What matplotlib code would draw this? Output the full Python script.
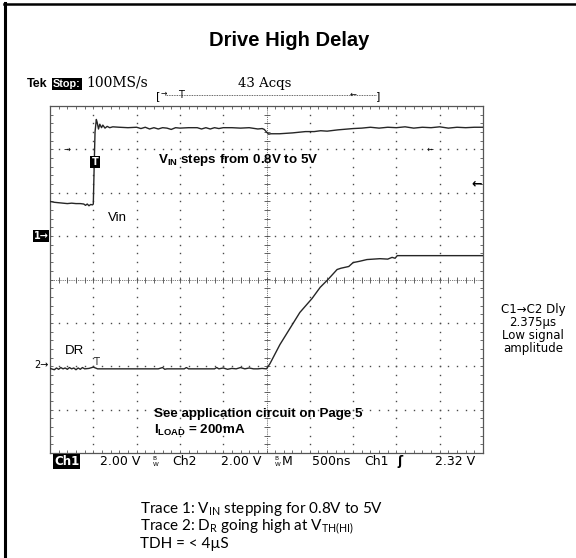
import matplotlib.pyplot as plt
import numpy as np
from matplotlib import font_manager
from matplotlib.lines import Line2D
from matplotlib.ticker import MultipleLocator

W, H = 576, 558

# ----------------------------------------------------------
# Scope traces, in graticule divisions (x 0..10, y -4..4)
# ----------------------------------------------------------

vin_t = [0.00, 0.10, 0.20, 0.30, 0.40, 0.50, 0.60, 0.70, 0.78, 0.82,
         0.86, 0.90, 0.94, 0.98, 1.00, 1.02, 1.04, 1.07, 1.09, 1.12,
         1.15, 1.19, 1.22, 1.27, 1.32, 1.38, 1.45, 1.60, 1.80, 2.00,
         2.10, 2.20, 2.30, 2.40, 2.50, 2.60, 2.70, 2.80, 2.90, 3.00,
         3.20, 3.40, 3.50, 3.60, 3.70, 3.80, 3.90, 4.00, 4.20, 4.40,
         4.60, 4.80, 4.90, 4.95, 5.00, 5.05, 5.10, 5.30, 5.60, 5.90,
         6.10, 6.25, 6.40, 6.65, 7.00, 7.20, 7.40, 7.60, 7.80, 8.00,
         8.20, 8.40, 8.60, 8.80, 9.00, 9.20, 9.40, 9.60, 9.80, 10.00]
vin_v = [1.80, 1.78, 1.77, 1.76, 1.75, 1.76, 1.75, 1.75, 1.74, 1.71,
         1.74, 1.70, 1.73, 1.72, 1.74, 2.60, 3.40, 3.69, 3.62, 3.47,
         3.58, 3.50, 3.56, 3.49, 3.53, 3.50, 3.52, 3.51, 3.50, 3.51,
         3.48, 3.51, 3.47, 3.50, 3.47, 3.50, 3.49, 3.46, 3.50, 3.49,
         3.50, 3.50, 3.47, 3.50, 3.47, 3.50, 3.48, 3.50, 3.50, 3.49,
         3.50, 3.47, 3.48, 3.46, 3.40, 3.35, 3.36, 3.36, 3.38, 3.41,
         3.41, 3.43, 3.42, 3.45, 3.48, 3.49, 3.51, 3.49, 3.51, 3.50,
         3.52, 3.49, 3.51, 3.50, 3.52, 3.49, 3.51, 3.50, 3.51, 3.51]

dr_t = [0.00, 0.10, 0.15, 0.20, 0.25, 0.30, 0.35, 0.40, 0.45, 0.50,
        0.55, 0.60, 0.65, 0.70, 0.75, 0.80, 0.90, 1.00, 1.10, 1.50,
        2.00, 2.50, 2.60, 2.65, 2.70, 3.10, 3.15, 3.20, 3.30, 3.80,
        3.85, 3.90, 4.00, 4.10, 4.20, 4.30, 4.40, 4.50, 4.60, 4.70,
        4.80, 4.90, 5.00, 5.08, 5.31, 5.77, 6.05, 6.24, 6.42, 6.63,
        6.72, 6.81, 6.90, 7.00, 7.15, 7.32, 7.62, 7.80, 7.90, 7.97,
        8.02, 8.50, 9.00, 9.50, 10.00]
dr_v = [-2.05, -2.08, -2.04, -2.07, -2.03, -2.06, -2.04, -2.07, -2.03, -2.06,
        -2.04, -2.08, -2.04, -2.07, -2.03, -2.06, -2.05, -2.02, -2.06, -2.06,
        -2.06, -2.06, -2.03, -2.07, -2.06, -2.06, -2.03, -2.06, -2.06, -2.06,
        -2.03, -2.06, -2.04, -2.07, -2.05, -2.06, -2.03, -2.06, -2.04, -2.06,
        -2.06, -2.05, -2.06, -1.94, -1.50, -0.76, -0.44, -0.18, 0.00, 0.23,
        0.26, 0.28, 0.30, 0.39, 0.42, 0.46, 0.48, 0.47, 0.51, 0.49,
        0.55, 0.55, 0.55, 0.55, 0.55]

title = "Drive High Delay"
header_rate = "100MS/s"
header_acqs = "43 Acqs"
status_items = [("2.00 V", 100), ("Ch2", 172), ("2.00 V", 221),
                ("M", 282), ("500ns", 312), ("Ch1", 364), ("2.32 V", 435)]
side_note = "C1\u2192C2 Dly\n2.375\u00b5s\nLow signal\namplitude"
caption = [r"Trace 1: V$_{\mathregular{IN}}$ stepping for 0.8V to 5V",
           r"Trace 2: D$_{\mathregular{R}}$ going high at V$_{\mathregular{TH(HI)}}$",
           "TDH = < 4\u00b5S"]

names = {f.name for f in font_manager.fontManager.ttflist}
narrow = "Liberation Sans Narrow" if "Liberation Sans Narrow" in names else "Liberation Sans"
nsize = 11.5 if narrow == "Liberation Sans Narrow" else 9.6

TRACE = "#262626"
GRID = "#4a4a4a"


def put(fig, x, y, s, **kw):
    # place text by pixel position of the reference image
    return fig.text(x / W, 1 - y / H, s, **kw)


fig = plt.figure(figsize=(W / 100, H / 100), dpi=100)

ax = fig.add_axes([50 / W, 1 - 453 / H, 433 / W, 347 / H])
ax.set_xlim(0, 10)
ax.set_ylim(-4, 4)

for s in ax.spines.values():
    s.set_color("#555555")
    s.set_linewidth(0.9)

ax.xaxis.set_major_locator(MultipleLocator(1))
ax.yaxis.set_major_locator(MultipleLocator(1))
ax.xaxis.set_minor_locator(MultipleLocator(0.2))
ax.yaxis.set_minor_locator(MultipleLocator(0.2))
ax.tick_params(which="both", direction="in", top=True, right=True,
               labelbottom=False, labelleft=False, length=2.5,
               width=0.6, color="#555555")

# ----------------------------------------------------------
# Graticule
# ----------------------------------------------------------

fine = np.arange(-4, 4.001, 0.2)
fine_x = np.arange(0, 10.001, 0.2)

for gx in range(1, 10):
    if gx == 5:
        continue
    ax.plot([gx] * len(fine), fine, ls="none", marker="s", ms=1.0,
            mew=0, color=GRID)

for gy in range(-3, 4):
    if gy == 0:
        continue
    ax.plot(fine_x, [gy] * len(fine_x), ls="none", marker="s", ms=1.0,
            mew=0, color=GRID)

ax.axvline(5, ls=(0, (1, 1.2)), lw=0.6, color=GRID)
ax.axhline(0, ls=(0, (1, 1.2)), lw=0.6, color=GRID)
ax.plot([5] * len(fine), fine, ls="none", marker="_", ms=4, mew=0.6,
        color=GRID)
ax.plot(fine_x, [0] * len(fine_x), ls="none", marker="|", ms=4, mew=0.6,
        color=GRID)

# ----------------------------------------------------------
# Traces
# ----------------------------------------------------------

ax.plot(vin_t, vin_v, color=TRACE, lw=1.0, zorder=5)
ax.plot(dr_t, dr_v, color=TRACE, lw=1.0, zorder=5)

# ----------------------------------------------------------
# Frame
# ----------------------------------------------------------

fig.add_artist(Line2D([5 / W, 5 / W], [0, 1 - 3 / H],
                      transform=fig.transFigure, color="black", lw=2.2))
fig.add_artist(Line2D([4 / W, 1], [1 - 4 / H, 1 - 4 / H],
                      transform=fig.transFigure, color="black", lw=1.8))

# ----------------------------------------------------------
# Text
# ----------------------------------------------------------

put(fig, 289, 46, title, ha="center", va="baseline", fontsize=14.5,
    fontweight="bold", family="Liberation Sans")

put(fig, 27, 87, "Tek", ha="left", va="baseline", fontsize=9,
    fontweight="bold", family="Liberation Sans")
put(fig, 53, 87, "Stop:", ha="left", va="baseline", fontsize=7.8,
    fontweight="bold", family="Liberation Sans", color="white",
    bbox=dict(boxstyle="square,pad=0.1", fc="black", ec="none"))
put(fig, 86, 87, header_rate, ha="left", va="baseline", fontsize=10,
    family="DejaVu Serif")
put(fig, 238, 87, header_acqs, ha="left", va="baseline", fontsize=9.5,
    family="DejaVu Serif")

# record bar
fig.add_artist(Line2D([165 / W, 376 / W], [1 - 95 / H, 1 - 95 / H],
                      transform=fig.transFigure, color="#333333",
                      lw=0.6, ls=(0, (1, 1))))
put(fig, 158, 96, "[", ha="center", va="center", fontsize=8)
put(fig, 378, 96, "]", ha="center", va="center", fontsize=8)
put(fig, 164, 93, "\u2192", ha="center", va="center", fontsize=5.5)
put(fig, 181, 95, "T", ha="center", va="center", fontsize=7)
put(fig, 353, 94, "\u2190", ha="center", va="center", fontsize=6)

# markers on the graticule
put(fig, 67, 149, "\u2192", ha="center", va="center", fontsize=6)
put(fig, 430, 149, "\u2190", ha="center", va="center", fontsize=6)
put(fig, 477, 184, "\u2190", ha="center", va="center", fontsize=9,
    fontweight="bold")
put(fig, 95, 162, "T", ha="center", va="center", fontsize=7,
    fontweight="bold", color="white",
    bbox=dict(boxstyle="square,pad=0.12", fc="black", ec="none"))
put(fig, 41, 236, "1\u2192", ha="center", va="center", fontsize=7,
    fontweight="bold", color="white",
    bbox=dict(boxstyle="square,pad=0.1", fc="black", ec="none"))
put(fig, 41, 365, "2\u2192", ha="center", va="center", fontsize=7)
put(fig, 96, 362, "T", ha="center", va="center", fontsize=7,
    color=TRACE)

put(fig, 108, 221, "Vin", ha="left", va="baseline", fontsize=9.5,
    family="Liberation Sans")
put(fig, 65, 354, "DR", ha="left", va="baseline", fontsize=9.5,
    family="Liberation Sans")
put(fig, 158, 163, r"V$_{\mathregular{IN}}$ steps from 0.8V to 5V",
    ha="left", va="baseline", fontsize=nsize, fontweight="bold",
    family=narrow)
put(fig, 154, 417, "See application circuit on Page 5", ha="left",
    va="baseline", fontsize=nsize, fontweight="bold", family=narrow)
put(fig, 154, 434, r"I$_{\mathregular{LOAD}}$ = 200mA", ha="left",
    va="baseline", fontsize=nsize, fontweight="bold", family=narrow)

# status line under the graticule
put(fig, 54, 465, "Ch1", ha="left", va="baseline", fontsize=8.5,
    fontweight="bold", color="white", family="DejaVu Sans",
    bbox=dict(boxstyle="square,pad=0.08", fc="black", ec="none"))
for label, x in status_items:
    put(fig, x, 465, label, ha="left", va="baseline", fontsize=9,
        family="DejaVu Sans")
for x in (152, 274):
    put(fig, x, 462, r"$^{\mathregular{B}}_{\mathregular{W}}$", ha="left",
        va="center", fontsize=6, family="DejaVu Sans")
put(fig, 397, 465, "\u0283", ha="left", va="baseline", fontsize=9,
    fontweight="bold", family="DejaVu Sans")

put(fig, 533, 352, side_note, ha="center", va="baseline", fontsize=8.5,
    family="DejaVu Sans", multialignment="center", linespacing=1.0)

for i, line in enumerate(caption):
    put(fig, 140, 513 + i * 17.5, line, ha="left", va="baseline",
        fontsize=11, family="Lato")

fig.savefig("out.png", dpi=100)
plt.close(fig)
